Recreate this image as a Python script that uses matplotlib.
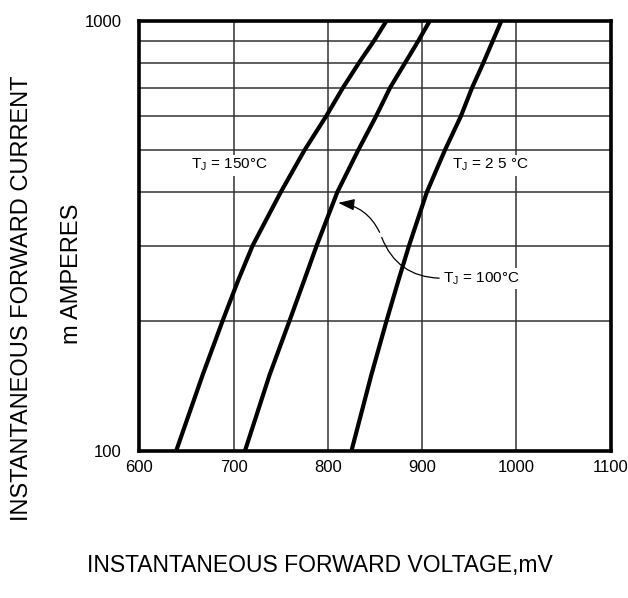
import matplotlib
matplotlib.use('Agg')
import matplotlib.pyplot as plt

plt.rcParams['font.family'] = ['Liberation Sans', 'DejaVu Sans']
plt.rcParams['mathtext.fontset'] = 'custom'
plt.rcParams['mathtext.rm'] = 'Liberation Sans'

# forward current, mA
current = [100, 150, 200, 250, 300, 400, 500, 600, 700, 800, 900, 1000]
# forward voltage, mV
v_150 = [639, 667, 688, 705, 720, 750, 775, 798, 816, 833, 849, 862]
v_100 = [712, 738, 759, 775, 788, 810, 832, 851, 866, 882, 896, 908]
v_25 = [825, 846, 862, 875, 886, 905, 924, 941, 953, 965, 975, 984]

x_ticks = [600, 700, 800, 900, 1000, 1100]
y_minor = [200, 300, 400, 500, 600, 700, 800, 900]

fig = plt.figure(figsize=(6.28, 5.98), dpi=100)
ax = fig.add_axes([0.2221, 0.2463, 0.7503, 0.7186])

ax.set_yscale('log')
ax.set_xlim(600, 1100)
ax.set_ylim(100, 1000)

# grid by hand so it sits under the curves
for xv in x_ticks[1:-1]:
    ax.axvline(xv, color='#333333', lw=1.1, zorder=1)
for yv in y_minor:
    ax.axhline(yv, color='#333333', lw=1.1, zorder=1)

for v in (v_150, v_100, v_25):
    ax.plot(v, current, color='black', lw=3.0, solid_capstyle='butt',
            solid_joinstyle='round', zorder=3)

ax.set_xticks(x_ticks)
ax.set_xticklabels([str(t) for t in x_ticks])
ax.set_yticks([100, 1000])
ax.set_yticklabels(['100', '1000'])
ax.yaxis.set_minor_locator(matplotlib.ticker.NullLocator())
ax.tick_params(length=0, labelsize=12, pad=7)
ax.tick_params(axis='y', pad=13)
for s in ax.spines.values():
    s.set_linewidth(2.6)
    s.set_zorder(5)

box = dict(facecolor='white', edgecolor='none', pad=1.5)
ax.text(655, 462, r'T$_\mathregular{J}$ = 150°C', fontsize=11, va='center',
        bbox=box, zorder=4)
ax.text(932, 462, r'T$_\mathregular{J}$ = 2 5 °C', fontsize=11, va='center',
        bbox=box, zorder=4)
ax.text(922, 252, r'T$_\mathregular{J}$ = 100°C', fontsize=11, va='center',
        bbox=box, zorder=4)

# wavy leader from the 100 C label to its curve
ax.annotate('', xy=(856, 318), xytext=(921, 252),
            arrowprops=dict(arrowstyle='-', color='black', lw=0.9,
                            connectionstyle='arc3,rad=-0.35'), zorder=4)
ax.annotate('', xy=(808, 378), xytext=(856, 318),
            arrowprops=dict(arrowstyle='-|>,head_length=0.7,head_width=0.25',
                            color='black', lw=0.9, mutation_scale=14,
                            connectionstyle='arc3,rad=0.3'), zorder=4)

fig.text(0.035, 0.502, 'INSTANTANEOUS FORWARD CURRENT', rotation=90,
         fontsize=17, ha='center', va='center')
fig.text(0.115, 0.542, 'm AMPERES', rotation=90,
         fontsize=17, ha='center', va='center')
fig.text(0.51, 0.055, 'INSTANTANEOUS FORWARD VOLTAGE,mV',
         fontsize=16.5, ha='center', va='center')

fig.savefig('out.png', dpi=100)
